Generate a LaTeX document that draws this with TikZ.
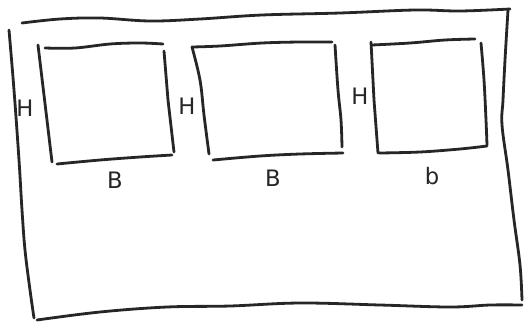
\documentclass[tikz,border=0pt]{standalone}
\usepackage{fontspec}
\setmainfont{DejaVu Sans}
\begin{document}
\begin{tikzpicture}[x=0.75pt,y=-0.75pt,
  pen/.style={line width=2.1pt,line cap=round,line join=round,black!85},
  lbl/.style={font=\fontsize{17}{17}\selectfont,inner sep=0pt,text=black!85}]
\useasboundingbox[fill=white] (0,0) rectangle (524,322);
% outer frame
\draw[pen] plot[smooth,tension=0.6] coordinates {(22,23) (60,19) (100,18) (150,21) (200,19) (262,15) (340,13) (415,10) (460,11) (510,9)};
\draw[pen] plot[smooth,tension=0.6] coordinates {(9,30) (14,90) (19,160) (22,210) (25,250) (30,290) (34,318)};
\draw[pen] plot[smooth,tension=0.6] coordinates {(37,320) (100,312) (167,307) (230,306) (300,303) (380,305) (450,307) (490,305) (522,305)};
\draw[pen] plot[smooth,tension=0.6] coordinates {(508,10) (505,60) (503,100) (502,125) (508,170) (514,220) (520,265) (522,300)};
% box 1
\draw[pen] plot[smooth,tension=0.6] coordinates {(45,48) (75,48) (110,44) (140,43) (163,44)};
\draw[pen] (38,45) -- (52,162);
\draw[pen] (164,51) -- (168,100) -- (174,152);
\draw[pen] plot[smooth,tension=0.6] coordinates {(57,164) (100,160) (140,157) (172,155)};
% box 2
\draw[pen] plot[smooth,tension=0.6] coordinates {(192,47) (220,46) (262,43) (300,42) (332,42)};
\draw[pen] plot[smooth,tension=0.6] coordinates {(192,47) (200,80) (204,115) (209,154)};
\draw[pen] plot[smooth,tension=0.6] coordinates {(335,45) (338,90) (341,120) (342,147)};
\draw[pen] plot[smooth,tension=0.6] coordinates {(213,160) (260,156) (300,154) (343,153)};
% box 3
\draw[pen] plot[smooth,tension=0.6] coordinates {(372,45) (410,43) (445,40) (475,39)};
\draw[pen] (371,42) -- (374,100) -- (378,153);
\draw[pen] plot[smooth,tension=0.6] coordinates {(481,43) (484,80) (486,120) (487,145)};
\draw[pen] plot[smooth,tension=0.6] coordinates {(379,153) (420,152) (460,149) (487,146)};
% labels
\node[lbl] (h1) at (25,108) {H};
\node[lbl] (h2) at (187,106) {H};
\node[lbl] (h3) at (360,96) {H};
\node[lbl] (b1) at (115,180) {B};
\node[lbl] (b2) at (273,178) {B};
\node[lbl] (b3) at (432,176) {b};
\end{tikzpicture}
\end{document}
